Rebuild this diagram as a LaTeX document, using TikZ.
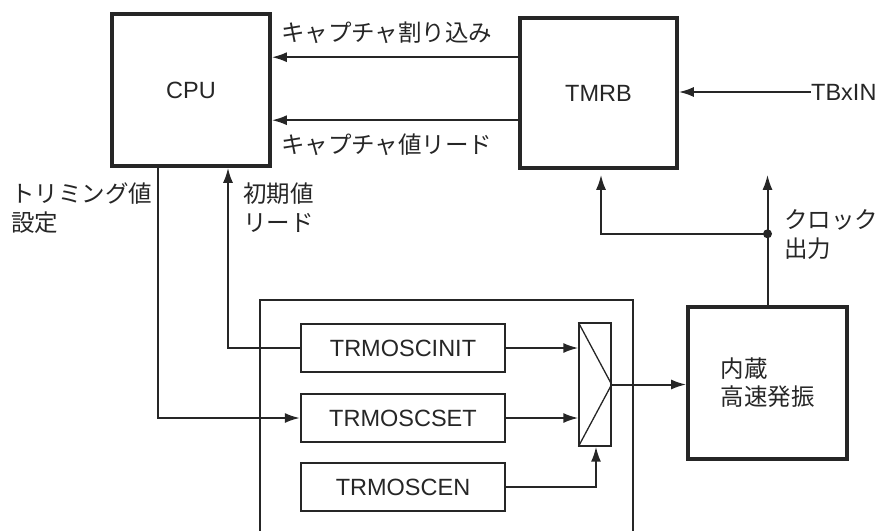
\documentclass[tikz,border=0pt]{standalone}
\usepackage{fontspec}
\setmainfont{Liberation Sans}
\newfontfamily\jp{Noto Sans CJK JP}
\usetikzlibrary{arrows.meta,calc}
\definecolor{ln}{HTML}{262626}
\begin{document}
\begin{tikzpicture}[x=1pt,y=-1pt,
  every node/.style={text=ln},
  bigbox/.style={draw=ln,line width=3.6pt,inner sep=0pt,font=\fontsize{23.5}{29}\selectfont},
  regbox/.style={draw=ln,line width=2.3pt,minimum width=204pt,minimum height=48pt,inner sep=0pt,font=\fontsize{23.5}{26}\selectfont},
  muxbox/.style={draw=ln,line width=1.3pt,minimum width=32pt,minimum height=123pt,inner sep=0pt},
  lbl/.style={font=\jp\fontsize{23.5}{29}\selectfont,align=left,inner sep=0pt},
  arr/.style={draw=ln,line width=2pt,-{Latex[length=15pt,width=10pt]}},
  wire/.style={draw=ln,line width=2pt}]
\useasboundingbox (0,0) rectangle (880,530);
% blocks
\node[bigbox,minimum width=158pt,minimum height=152pt] (cpu) at (191,90) {CPU};
\node[bigbox,minimum width=157pt,minimum height=150pt] (tmrb) at (598.5,93) {TMRB};
\node[bigbox,minimum width=159pt,minimum height=152pt,align=left,font=\jp\fontsize{23.5}{28}\selectfont] (osc) at (767.5,383) {内蔵\\高速発振};
% enclosing box
\draw[ln,line width=1.6pt] (260,531) -- (260,300) -- (633,300) -- (633,531);
% registers
\node[regbox] (init) at (403,348) {TRMOSCINIT};
\node[regbox] (set) at (403,418) {TRMOSCSET};
\node[regbox] (en) at (403,487) {TRMOSCEN};
% mux
\node[muxbox] (mux) at (595,384.5) {};
\draw[ln,line width=1.3pt] (mux.north west) -- (mux.east) -- (mux.south west);
% labels
\node[lbl,anchor=west] (capint) at (281,33) {キャプチャ割り込み};
\node[lbl,anchor=west] (capval) at (281,145) {キャプチャ値リード};
\node[anchor=west,inner sep=0pt,font=\fontsize{23.5}{26}\selectfont] (tbxin) at (811,92) {TBxIN};
\node[lbl,anchor=north west] (trim) at (11,183) {トリミング値\\設定};
\node[lbl,anchor=north west] (iniread) at (243,183) {初期値\\リード};
\node[lbl,anchor=north west] (clk) at (784,209) {クロック\\出力};
% connectors
\draw[arr] ([yshift=-41pt]tmrb.north west) -- ([yshift=-41pt]tmrb.north west -| cpu.east);
\draw[arr] ([yshift=-104pt]tmrb.north west) -- ([yshift=-104pt]tmrb.north west -| cpu.east);
\draw[arr] (tbxin.west) -- (tbxin.west -| tmrb.east);
\coordinate (dot) at ($(osc.north |- tmrb.south)+(0,64)$);
\draw[arr] (osc.north) -- ([yshift=-5pt]osc.north |- tmrb.south);
\fill[ln] (dot) circle (4.5pt);
\draw[arr] (dot) -| ([xshift=2.5pt,yshift=-5pt]tmrb.south);
\draw[arr] (mux.east) -- (mux.east -| osc.west);
\draw[arr] (init.east) -- (init.east -| mux.west);
\draw[arr] (set.east) -- (set.east -| mux.west);
\draw[arr] (en.east) -| ([xshift=1pt]mux.south);
\draw[arr] (init.west) -| ([xshift=37pt]cpu.south);
\draw[arr] ([xshift=-33pt]cpu.south) |- (set.west);
\end{tikzpicture}
\end{document}
